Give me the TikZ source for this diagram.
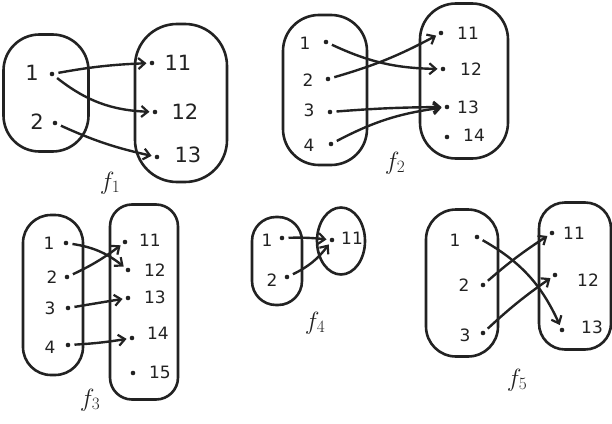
\documentclass[tikz,border=0pt]{standalone}
\usepackage{fontspec}
\setmainfont{DejaVu Sans}
\usetikzlibrary{arrows.meta,shapes.geometric}
\definecolor{ink}{HTML}{222222}
\tikzset{
  setbox/.style={draw=ink, line width=2.6pt, rounded corners=#1, inner sep=0pt},
  pt/.style={circle, fill=ink, inner sep=0pt, minimum size=4.6pt},
  lab/.style={font=\fontsize{17}{19}\selectfont, text=ink, inner sep=0pt},
  biglab/.style={font=\fontsize{21}{23}\selectfont, text=ink, inner sep=0pt},
  fname/.style={font=\fontsize{23}{25}\selectfont, text=ink, inner sep=0pt},
  arr/.style={draw=ink, line width=2.4pt, -{Straight Barb[length=6.5pt,width=11pt,line width=2.2pt]}, shorten <=4pt, shorten >=3pt},
}
\begin{document}
\begin{tikzpicture}[x=1pt,y=-1pt]
\useasboundingbox (0,0) rectangle (612,423);

% ---------- f1 ----------
\node[setbox=36pt, minimum width=85pt, minimum height=117pt] (A1) at (46,93) {};
\node[setbox=42pt, minimum width=92pt, minimum height=158pt] (B1) at (181,103) {};
\node[pt] (a1) at (52,74) {};  \node[biglab] (la1) at (32,73) {1};
\node[pt] (a2) at (55,123) {}; \node[biglab] (la2) at (37,122) {2};
\node[pt] (b11) at (152,63) {};  \node[biglab] (lb11) at (178,63) {11};
\node[pt] (b12) at (155,112) {}; \node[biglab] (lb12) at (185,112) {12};
\node[pt] (b13) at (157,157) {}; \node[biglab] (lb13) at (188,155) {13};
\node[fname] (f1) at (110,183) {$f_1$};
\draw[arr] (a1) to[bend left=4] (b11);
\draw[arr] (a1) to[bend right=18] (b12);
\draw[arr] (a2) to[bend right=6] (b13);

% ---------- f2 ----------
\node[setbox=36pt, minimum width=84pt, minimum height=150pt] (A2) at (325,90) {};
\node[setbox=36pt, minimum width=88pt, minimum height=155pt] (B2) at (464,81) {};
\node[pt] (c1) at (326,42) {};  \node[lab] (lc1) at (305,43) {1};
\node[pt] (c2) at (328,79) {};  \node[lab] (lc2) at (308,80) {2};
\node[pt] (c3) at (330,112) {}; \node[lab] (lc3) at (309,110) {3};
\node[pt] (c4) at (331,144) {}; \node[lab] (lc4) at (309,145) {4};
\node[pt] (d11) at (441,33) {};  \node[lab] (ld11) at (468,33) {11};
\node[pt] (d12) at (443,69) {};  \node[lab] (ld12) at (471,69) {12};
\node[pt] (d13) at (447,107) {}; \node[lab] (ld13) at (468,107) {13};
\node[pt] (d14) at (447,137) {}; \node[lab] (ld14) at (474,135) {14};
\node[fname] (f2) at (395,163) {$f_2$};
\draw[arr] (c1) to[bend right=12] (d12);
\draw[arr] (c2) to[bend right=6] (d11);
\draw[arr] (c3) to[bend left=2] (d13);
\draw[arr] (c4) to[bend left=10] (d13);

% ---------- f3 ----------
\node[setbox=28pt, minimum width=60pt, minimum height=160pt] (A3) at (53,295) {};
\node[setbox=22pt, minimum width=68pt, minimum height=195pt] (B3) at (144,302) {};
\node[pt] (e1) at (66,243) {}; \node[lab] (le1) at (49,243) {1};
\node[pt] (e2) at (67,277) {}; \node[lab] (le2) at (52,277) {2};
\node[pt] (e3) at (68,308) {}; \node[lab] (le3) at (50,308) {3};
\node[pt] (e4) at (68,345) {}; \node[lab] (le4) at (50,347) {4};
\node[pt] (g11) at (125,242) {}; \node[lab] (lg11) at (150,240) {11};
\node[pt] (g12) at (128,270) {}; \node[lab] (lg12) at (155,270) {12};
\node[pt] (g13) at (128,298) {}; \node[lab] (lg13) at (155,297) {13};
\node[pt] (g14) at (132,338) {}; \node[lab] (lg14) at (158,333) {14};
\node[pt] (g15) at (133,373) {}; \node[lab] (lg15) at (160,372) {15};
\node[fname] (f3) at (90,400) {$f_3$};
\draw[arr] (e1) to[bend left=15] (g12);
\draw[arr] (e2) to[bend right=6] (g11);
\draw[arr] (e3) -- (g13);
\draw[arr] (e4) to[bend right=3] (g14);

% ---------- f4 ----------
\node[setbox=24pt, minimum width=50pt, minimum height=88pt] (A4) at (277,261) {};
\node[draw=ink, line width=2.6pt, ellipse, minimum width=48pt, minimum height=67pt, inner sep=0pt] (B4) at (341,241) {};
\node[pt] (h1) at (282,238) {}; \node[lab] (lh1) at (267,240) {1};
\node[pt] (h2) at (287,277) {}; \node[lab] (lh2) at (272,280) {2};
\node[pt] (k11) at (332,240) {}; \node[lab] (lk11) at (352,238) {11};
\node[fname] (f4) at (315,323) {$f_4$};
\draw[arr] (h1) to[bend left=4] (k11);
\draw[arr] (h2) to[bend right=14] (k11);

% ---------- f5 ----------
\node[setbox=30pt, minimum width=72pt, minimum height=147pt] (A5) at (462,283) {};
\node[setbox=26pt, minimum width=72pt, minimum height=147pt] (B5) at (575,276) {};
\node[pt] (m1) at (477,237) {}; \node[lab] (lm1) at (455,240) {1};
\node[pt] (m2) at (483,285) {}; \node[lab] (lm2) at (464,285) {2};
\node[pt] (m3) at (483,333) {}; \node[lab] (lm3) at (465,335) {3};
\node[pt] (n11) at (552,233) {}; \node[lab] (ln11) at (574,233) {11};
\node[pt] (n12) at (555,275) {}; \node[lab] (ln12) at (588,280) {12};
\node[pt] (n13) at (562,330) {}; \node[lab] (ln13) at (592,327) {13};
\node[fname] (f5) at (517,380) {$f_5$};
\draw[arr] (m1) to[bend left=18] (n13);
\draw[arr] (m2) to[bend left=4] (n11);
\draw[arr] (m3) to[bend left=4] (n12);
\end{tikzpicture}
\end{document}
